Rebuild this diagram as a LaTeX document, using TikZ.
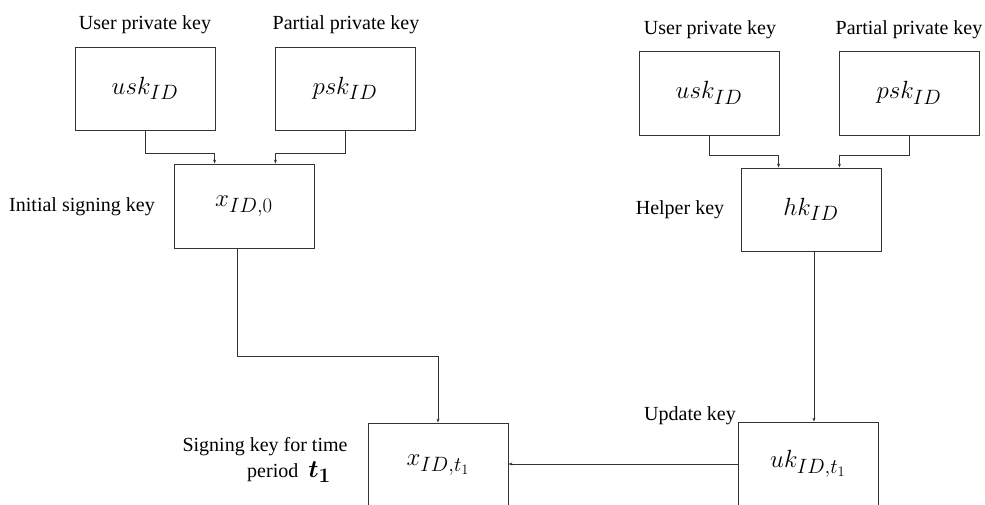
\documentclass[tikz,border=0pt]{standalone}
\usepackage{amsmath}
\usepackage{bm}
\usepackage{fontspec}
\setmainfont{Liberation Serif}
\usetikzlibrary{arrows.meta}
\begin{document}
\begin{tikzpicture}[x=1pt,y=-1pt,
  keybox/.style={draw=black!80, line width=0.8pt, minimum width=140pt, minimum height=83pt, inner sep=0pt, font=\fontsize{29}{32}\selectfont},
  lbl/.style={inner sep=0pt, font=\fontsize{20}{22}\selectfont},
  arr/.style={draw=black!80, line width=0.8pt, -{Stealth[length=4pt,width=3pt]}}]
\clip (0,0) rectangle (985,504);
\fill[white] (0,0) rectangle (985,504);
% left group
\node[keybox] (usk1) at (145,88.5) {$usk_{ID}$};
\node[keybox] (psk1) at (345,88.5) {$psk_{ID}$};
\node[keybox, minimum height=84pt] (x0) at (244,206) {$x_{ID,0}$};
\node[lbl] (lu1) at (145,25) {User private key};
\node[lbl] (lp1) at (346,25) {Partial private key};
\node[lbl] (li) at (82,207) {Initial signing key};
% right group
\node[keybox, minimum height=84pt] (usk2) at (709,93) {$usk_{ID}$};
\node[keybox, minimum height=84pt] (psk2) at (909,93) {$psk_{ID}$};
\node[keybox] (hk) at (811,209.5) {$hk_{ID}$};
\node[lbl] (lu2) at (710,30) {User private key};
\node[lbl] (lp2) at (909,30) {Partial private key};
\node[lbl] (lh) at (680,210) {Helper key};
% bottom
\node[keybox, minimum height=84pt] (xt) at (438,465) {$x_{ID,t_1}$};
\node[keybox, minimum height=84pt] (uk) at (808,464) {$uk_{ID,t_1}$};
\node[lbl] (lu) at (690,416) {Update key};
\node[lbl] (ls1) at (265,447) {Signing key for time};
\node[lbl, anchor=east] (ls2) at (331,472) {period \ {\fontsize{28}{30}\selectfont$\bm{t_{1}}$}};
% connectors
\draw[arr] (usk1.south) -- ++(0,23) -| ([xshift=41pt]x0.north west);
\draw[arr] (psk1.south) -- ++(0,23) -| ([xshift=-39pt]x0.north east);
\draw[arr] (usk2.south) -- ++(0,20) -| ([xshift=38pt]hk.north west);
\draw[arr] (psk2.south) -- ++(0,20) -| ([xshift=-42pt]hk.north east);
\draw[arr] ([xshift=-7pt]x0.south) -- ++(0,108) -| (xt.north);
\draw[arr] ([xshift=3pt]hk.south) -- ([xshift=3pt]hk.south |- uk.north);
\draw[arr] (uk.west) -- (uk.west -| xt.east);
\end{tikzpicture}
\end{document}
